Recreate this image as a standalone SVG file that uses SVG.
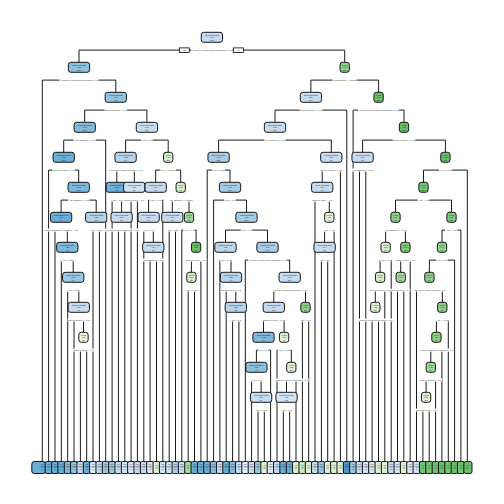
<svg xmlns="http://www.w3.org/2000/svg" width="504" height="504" viewBox="0 0 504 504">
<style>
.nb{stroke:#000;stroke-width:.9}
.tx{font-family:"Liberation Sans",Arial,sans-serif;font-size:1.9px;text-anchor:middle;fill:#111}
.lt{font-family:"Liberation Sans",Arial,sans-serif;font-size:1.05px;text-anchor:middle;fill:#111}
.sl{font-family:"Liberation Sans",Arial,sans-serif;font-size:2.4px;text-anchor:middle;fill:#333}
.s2{font-size:2.1px}
.bg{fill:#fff}
.cn{stroke:#000;stroke-width:.9;fill:none}
.yn{fill:#fff;stroke:#000;stroke-width:.8}
</style>
<rect width="504" height="504" fill="#fff"/>
<g id="connectors">
<path class="cn" d="M79 50.1H344.7M79 50.1V62.3M344.7 50.1V62.3
M42.3 80.1H115.8M42.3 80.1V461.5M115.8 80.1V92.3
M310.9 80.1H378.6M310.9 80.1V92.3M378.6 80.1V92.3
M84.7 110.1H146.9M84.7 110.1V122.3M146.9 110.1V122.3
M275 110.1H346.8M275 110.1V122.3M346.8 110.1V461.5
M353.1 110.1H404M353.1 110.1V461.5M404 110.1V122.3
M63.7 140.1H105.7M63.7 140.1V152.3M105.7 140.1V461.5
M125.6 140.1H168.2M125.6 140.1V152.3M168.2 140.1V152.3
M218.6 140.1H331.3M218.6 140.1V152.3M331.3 140.1V152.3
M362.6 140.1H445.4M362.6 140.1V152.3M445.4 140.1V152.3
M48.6 170.1H78.7M48.6 170.1V461.5M78.7 170.1V182.3
M116.8 170.1H134.3M116.8 170.1V182.3M134.3 170.1V182.3
M155.7 170.1H180.7M155.7 170.1V182.3M180.7 170.1V182.3
M207.2 170.1H230M207.2 170.1V461.5M230 170.1V182.3
M322.2 170.1H340.4M322.2 170.1V182.3M340.4 170.1V461.5
M359.5 170.1H365.8M359.5 170.1V461.5M365.8 170.1V461.5
M423.5 170.1H467.3M423.5 170.1V182.3M467.3 170.1V461.5
M61.1 200.1H96.2M61.1 200.1V212.3M96.2 200.1V212.3
M112.1 200.1H121.6M112.1 200.1V461.5M121.6 200.1V212.3
M131.1 200.1H137.4M131.1 200.1V461.5M137.4 200.1V461.5
M148.6 200.1H162.8M148.6 200.1V212.3M162.8 200.1V461.5
M172.3 200.1H189M172.3 200.1V212.3M189 200.1V212.3
M213.6 200.1H246.5M213.6 200.1V461.5M246.5 200.1V212.3
M315 200.1H329.3M315 200.1V461.5M329.3 200.1V212.3
M395.5 200.1H451.5M395.5 200.1V212.3M451.5 200.1V212.3
M55 230.1H67.3M55 230.1V461.5M67.3 230.1V242.3
M93 230.1H99.4M93 230.1V461.5M99.4 230.1V461.5
M118.4 230.1H124.8M118.4 230.1V461.5M124.8 230.1V461.5
M143.8 230.1H153.3M143.8 230.1V461.5M153.3 230.1V242.3
M169.2 230.1H175.5M169.2 230.1V461.5M175.5 230.1V461.5
M181.8 230.1H196.1M181.8 230.1V461.5M196.1 230.1V242.3
M225.5 230.1H267.5M225.5 230.1V242.3M267.5 230.1V242.3
M324.6 230.1H334.1M324.6 230.1V242.3M334.1 230.1V461.5
M385.6 230.1H405.4M385.6 230.1V242.3M405.4 230.1V242.3
M442 230.1H460.9M442 230.1V242.3M460.9 230.1V461.5
M61.3 260.1H73.2M61.3 260.1V461.5M73.2 260.1V272.3
M150.1 260.1H156.5M150.1 260.1V461.5M156.5 260.1V461.5
M191.4 260.1H200.9M191.4 260.1V272.3M200.9 260.1V461.5
M219.9 260.1H231M219.9 260.1V461.5M231 260.1V272.3
M245.3 260.1H289.7M245.3 260.1V461.5M289.7 260.1V272.3
M321.4 260.1H327.7M321.4 260.1V461.5M327.7 260.1V461.5
M380.1 260.1H391.2M380.1 260.1V272.3M391.2 260.1V461.5
M400.7 260.1H410.2M400.7 260.1V272.3M410.2 260.1V461.5
M429.4 260.1H454.6M429.4 260.1V272.3M454.6 260.1V461.5
M67.7 290.1H78.8M67.7 290.1V461.5M78.8 290.1V302.3
M188.2 290.1H194.5M188.2 290.1V461.5M194.5 290.1V461.5
M226.2 290.1H235.8M226.2 290.1V461.5M235.8 290.1V302.3
M273.8 290.1H305.5M273.8 290.1V302.3M305.5 290.1V302.3
M375.3 290.1H384.8M375.3 290.1V302.3M384.8 290.1V461.5
M397.5 290.1H403.8M397.5 290.1V461.5M403.8 290.1V461.5
M416.5 290.1H442.3M416.5 290.1V461.5M442.3 290.1V302.3
M74 320.1H83.5M74 320.1V461.5M83.5 320.1V332.3
M232.6 320.1H238.9M232.6 320.1V461.5M238.9 320.1V461.5
M263.5 320.1H284.1M263.5 320.1V332.3M284.1 320.1V332.3
M302.4 320.1H308.7M302.4 320.1V461.5M308.7 320.1V461.5
M372.1 320.1H378.5M372.1 320.1V461.5M378.5 320.1V461.5
M436.4 320.1H448.3M436.4 320.1V332.3M448.3 320.1V461.5
M80.4 350.1H86.7M80.4 350.1V461.5M86.7 350.1V461.5
M256.4 350.1H270.6M256.4 350.1V362.3M270.6 350.1V461.5
M277 350.1H291.3M277 350.1V461.5M291.3 350.1V362.3
M430.8 350.1H441.9M430.8 350.1V362.3M441.9 350.1V461.5
M251.6 380.1H261.1M251.6 380.1V461.5M261.1 380.1V392.3
M286.5 380.1H296M286.5 380.1V392.3M296 380.1V461.5
M426.1 380.1H435.6M426.1 380.1V392.3M435.6 380.1V461.5
M258 410.1H264.3M258 410.1V461.5M264.3 410.1V461.5
M283.3 410.1H289.7M283.3 410.1V461.5M289.7 410.1V461.5
M422.9 410.1H429.2M422.9 410.1V461.5M429.2 410.1V461.5"/>
</g>
<g id="n-root"><rect class="nb" x="201.25" y="32.3" width="21.3" height="10" rx="2.5" fill="#c6dbef"/><text class="tx" x="211.9" y="36.1">social generalist<tspan x="211.9" dy="2.2">0.54</tspan><tspan x="211.9" dy="2.2">100%</tspan></text><rect class="bg" x="191.4" y="48.6" width="41" height="3"/><text class="sl" x="211.9" y="50.95" textLength="40" lengthAdjust="spacingAndGlyphs">Amount.of.Time.Spent.Outdoors &lt; 0.5</text><rect class="yn" x="179.3" y="47.9" width="10" height="4.6"/><text class="sl" x="184.3" y="51.05">yes</text><rect class="yn" x="233.3" y="47.9" width="10" height="4.6"/><text class="sl" x="238.3" y="51.05">no</text></g>
<g id="n-N1"><rect class="nb" x="68.35" y="62.3" width="21.3" height="10" rx="2.5" fill="#8fc1de"/><text class="tx" x="79" y="66.1">social generalist<tspan x="79" dy="2.2">0.68</tspan><tspan x="79" dy="2.2">38%</tspan></text><rect class="bg" x="59.5" y="78.6" width="39" height="3"/><text class="sl" x="79" y="80.95" textLength="38" lengthAdjust="spacingAndGlyphs">Amount.of.Time.Spent.Reading &lt; 0.5</text></g>
<g id="n-A"><rect class="nb" x="105.15" y="92.3" width="21.3" height="10" rx="2.5" fill="#94c4df"/><text class="tx" x="115.8" y="96.1">social generalist<tspan x="115.8" dy="2.2">0.65</tspan><tspan x="115.8" dy="2.2">37%</tspan></text><rect class="bg" x="104.55" y="108.6" width="22.5" height="3"/><text class="sl" x="115.8" y="110.95" textLength="21.5" lengthAdjust="spacingAndGlyphs">Sleep.Quality &lt; 0.5</text></g>
<g id="n-B"><rect class="nb" x="74.05" y="122.3" width="21.3" height="10" rx="2.5" fill="#84bbdc"/><text class="tx" x="84.7" y="126.1">social generalist<tspan x="84.7" dy="2.2">0.68</tspan><tspan x="84.7" dy="2.2">15%</tspan></text><rect class="bg" x="73.55" y="138.6" width="22.3" height="3"/><text class="sl" x="84.7" y="140.95" textLength="21.3" lengthAdjust="spacingAndGlyphs">Age.Started &lt; 0.75</text></g>
<g id="n-D"><rect class="nb" x="53.05" y="152.3" width="21.3" height="10" rx="2.5" fill="#6baed6"/><text class="tx" x="63.7" y="156.1">social generalist<tspan x="63.7" dy="2.2">0.78</tspan><tspan x="63.7" dy="2.2">13%</tspan></text><rect class="bg" x="52.45" y="168.6" width="22.5" height="3"/><text class="sl" x="63.7" y="170.95" textLength="21.5" lengthAdjust="spacingAndGlyphs">Sleep.Quality &lt; 0.5</text></g>
<g id="n-N5a"><rect class="nb" x="68.05" y="182.3" width="21.3" height="10" rx="2.5" fill="#7db7dc"/><text class="tx" x="78.7" y="186.1">social generalist<tspan x="78.7" dy="2.2">0.72</tspan><tspan x="78.7" dy="2.2">12%</tspan></text><rect class="bg" x="68.2" y="198.6" width="21" height="3"/><text class="sl" x="78.7" y="200.95" textLength="20" lengthAdjust="spacingAndGlyphs">Age.Started &lt; 0.5</text></g>
<g id="n-N6a"><rect class="nb" x="50.45" y="212.3" width="21.3" height="10" rx="2.5" fill="#6aaed6"/><text class="tx" x="61.1" y="216.1">social generalist<tspan x="61.1" dy="2.2">0.78</tspan><tspan x="61.1" dy="2.2">9%</tspan></text><rect class="bg" x="43.6" y="228.6" width="35" height="3"/><text class="sl" x="61.1" y="230.95" textLength="34" lengthAdjust="spacingAndGlyphs">Amount.of.Social.Contact &lt; 0.5</text></g>
<g id="n-N7a"><rect class="nb" x="56.65" y="242.3" width="21.3" height="10" rx="2.5" fill="#7db7dc"/><text class="tx" x="67.3" y="246.1">social generalist<tspan x="67.3" dy="2.2">0.72</tspan><tspan x="67.3" dy="2.2">7%</tspan></text><rect class="bg" x="60.9" y="258.6" width="12.8" height="3"/><text class="sl" x="67.3" y="260.95" textLength="11.8" lengthAdjust="spacingAndGlyphs">Age &lt; 0.25</text></g>
<g id="n-N8a"><rect class="nb" x="62.55" y="272.3" width="21.3" height="10" rx="2.5" fill="#9cc8e2"/><text class="tx" x="73.2" y="276.1">social generalist<tspan x="73.2" dy="2.2">0.65</tspan><tspan x="73.2" dy="2.2">6%</tspan></text><rect class="bg" x="66.8" y="288.6" width="12.8" height="3"/><text class="sl" x="73.2" y="290.95" textLength="11.8" lengthAdjust="spacingAndGlyphs">Age &lt; 0.25</text></g>
<g id="n-N9a"><rect class="nb" x="68.15" y="302.3" width="21.3" height="10" rx="2.5" fill="#c6dbef"/><text class="tx" x="78.8" y="306.1">social generalist<tspan x="78.8" dy="2.2">0.54</tspan><tspan x="78.8" dy="2.2">4%</tspan></text><rect class="bg" x="67.55" y="318.6" width="22.5" height="3"/><text class="sl" x="78.8" y="320.95" textLength="21.5" lengthAdjust="spacingAndGlyphs">Sleep.Quality &lt; 0.5</text></g>
<g id="n-N10a"><rect class="nb" x="78.85" y="332.3" width="9.3" height="10" rx="2.5" fill="#e8f5e0"/><text class="tx" x="83.5" y="336.1">expert<tspan x="83.5" dy="2.2">0.50</tspan><tspan x="83.5" dy="2.2">3%</tspan></text><rect class="bg" x="73" y="348.6" width="21" height="3"/><text class="sl" x="83.5" y="350.95" textLength="20" lengthAdjust="spacingAndGlyphs">Screen.Time &lt; 0.5</text></g>
<g id="n-N6b"><rect class="nb" x="85.55" y="212.3" width="21.3" height="10" rx="2.5" fill="#b2d2e8"/><text class="tx" x="96.2" y="216.1">social generalist<tspan x="96.2" dy="2.2">0.58</tspan><tspan x="96.2" dy="2.2">3%</tspan></text><rect class="bg" x="89.8" y="228.6" width="12.8" height="3"/><text class="sl" x="96.2" y="230.95" textLength="11.8" lengthAdjust="spacingAndGlyphs">Age &lt; 0.25</text></g>
<g id="n-C"><rect class="nb" x="136.25" y="122.3" width="21.3" height="10" rx="2.5" fill="#c8dcf0"/><text class="tx" x="146.9" y="126.1">social generalist<tspan x="146.9" dy="2.2">0.54</tspan><tspan x="146.9" dy="2.2">22%</tspan></text><rect class="bg" x="141.15" y="138.6" width="11.5" height="3"/><text class="sl" x="146.9" y="140.95" textLength="10.5" lengthAdjust="spacingAndGlyphs">Age &lt; 0.5</text></g>
<g id="n-E"><rect class="nb" x="114.95" y="152.3" width="21.3" height="10" rx="2.5" fill="#b7d4ea"/><text class="tx" x="125.6" y="156.1">social generalist<tspan x="125.6" dy="2.2">0.58</tspan><tspan x="125.6" dy="2.2">7%</tspan></text><rect class="bg" x="108.1" y="168.6" width="35" height="3"/><text class="sl" x="125.6" y="170.95" textLength="34" lengthAdjust="spacingAndGlyphs">Amount.of.Social.Contact &lt; 0.5</text></g>
<g id="n-F"><rect class="nb" x="106.15" y="182.3" width="21.3" height="10" rx="2.5" fill="#6baed6"/><text class="tx" x="116.8" y="186.1">social generalist<tspan x="116.8" dy="2.2">0.78</tspan><tspan x="116.8" dy="2.2">4%</tspan></text><rect class="bg" x="111.05" y="198.6" width="11.5" height="3"/><text class="sl" x="116.8" y="200.95" textLength="10.5" lengthAdjust="spacingAndGlyphs">Age &lt; 0.5</text></g>
<g id="n-N6c"><rect class="nb" x="110.95" y="212.3" width="21.3" height="10" rx="2.5" fill="#c6dbef"/><text class="tx" x="121.6" y="216.1">social generalist<tspan x="121.6" dy="2.2">0.54</tspan><tspan x="121.6" dy="2.2">3%</tspan></text><rect class="bg" x="104.1" y="228.6" width="35" height="3"/><text class="sl" x="121.6" y="230.95" textLength="34" lengthAdjust="spacingAndGlyphs">Amount.of.Social.Contact &lt; 0.5</text></g>
<g id="n-G"><rect class="nb" x="123.65" y="182.3" width="21.3" height="10" rx="2.5" fill="#d0e2f2"/><text class="tx" x="134.3" y="186.1">social generalist<tspan x="134.3" dy="2.2">0.50</tspan><tspan x="134.3" dy="2.2">3%</tspan></text><rect class="bg" x="123.8" y="198.6" width="21" height="3"/><text class="sl" x="134.3" y="200.95" textLength="20" lengthAdjust="spacingAndGlyphs">Screen.Time &lt; 0.5</text></g>
<g id="n-K"><rect class="nb" x="163.55" y="152.3" width="9.3" height="10" rx="2.5" fill="#d9efce"/><text class="tx" x="168.2" y="156.1">expert<tspan x="168.2" dy="2.2">0.55</tspan><tspan x="168.2" dy="2.2">15%</tspan></text><rect class="bg" x="160.45" y="168.6" width="15.5" height="3"/><text class="sl" x="168.2" y="170.95" textLength="14.5" lengthAdjust="spacingAndGlyphs">Age &lt; 0.0005</text></g>
<g id="n-H"><rect class="nb" x="145.05" y="182.3" width="21.3" height="10" rx="2.5" fill="#c6dbef"/><text class="tx" x="155.7" y="186.1">social generalist<tspan x="155.7" dy="2.2">0.54</tspan><tspan x="155.7" dy="2.2">6%</tspan></text><rect class="bg" x="149.3" y="198.6" width="12.8" height="3"/><text class="sl" x="155.7" y="200.95" textLength="11.8" lengthAdjust="spacingAndGlyphs">Age &lt; 0.17</text></g>
<g id="n-N6d"><rect class="nb" x="137.95" y="212.3" width="21.3" height="10" rx="2.5" fill="#c6dbef"/><text class="tx" x="148.6" y="216.1">social generalist<tspan x="148.6" dy="2.2">0.54</tspan><tspan x="148.6" dy="2.2">4%</tspan></text><rect class="bg" x="142.85" y="228.6" width="11.5" height="3"/><text class="sl" x="148.6" y="230.95" textLength="10.5" lengthAdjust="spacingAndGlyphs">Age &lt; 0.5</text></g>
<g id="n-N7b"><rect class="nb" x="142.65" y="242.3" width="21.3" height="10" rx="2.5" fill="#c6dbef"/><text class="tx" x="153.3" y="246.1">social generalist<tspan x="153.3" dy="2.2">0.54</tspan><tspan x="153.3" dy="2.2">3%</tspan></text><rect class="bg" x="142.15" y="258.6" width="22.3" height="3"/><text class="sl" x="153.3" y="260.95" textLength="21.3" lengthAdjust="spacingAndGlyphs">Age.Started &lt; 0.75</text></g>
<g id="n-I"><rect class="nb" x="176.05" y="182.3" width="9.3" height="10" rx="2.5" fill="#d4ecc8"/><text class="tx" x="180.7" y="186.1">expert<tspan x="180.7" dy="2.2">0.55</tspan><tspan x="180.7" dy="2.2">9%</tspan></text><rect class="bg" x="168.2" y="198.6" width="25" height="3"/><text class="sl" x="180.7" y="200.95" textLength="24" lengthAdjust="spacingAndGlyphs">Age.Started &lt; 0.0005</text></g>
<g id="n-N6e"><rect class="nb" x="161.65" y="212.3" width="21.3" height="10" rx="2.5" fill="#c6dbef"/><text class="tx" x="172.3" y="216.1">social generalist<tspan x="172.3" dy="2.2">0.54</tspan><tspan x="172.3" dy="2.2">3%</tspan></text><rect class="bg" x="165.9" y="228.6" width="12.8" height="3"/><text class="sl" x="172.3" y="230.95" textLength="11.8" lengthAdjust="spacingAndGlyphs">Age &lt; 0.25</text></g>
<g id="n-N6f"><rect class="nb" x="184.35" y="212.3" width="9.3" height="10" rx="2.5" fill="#9ed79a"/><text class="tx" x="189" y="216.1">expert<tspan x="189" dy="2.2">0.65</tspan><tspan x="189" dy="2.2">6%</tspan></text><rect class="bg" x="183.25" y="228.6" width="11.5" height="3"/><text class="sl" x="189" y="230.95" textLength="10.5" lengthAdjust="spacingAndGlyphs">Age &lt; 0.5</text></g>
<g id="n-N7c"><rect class="nb" x="191.45" y="242.3" width="9.3" height="10" rx="2.5" fill="#6abf69"/><text class="tx" x="196.1" y="246.1">expert<tspan x="196.1" dy="2.2">0.82</tspan><tspan x="196.1" dy="2.2">4%</tspan></text><rect class="bg" x="185.6" y="258.6" width="21" height="3"/><text class="sl" x="196.1" y="260.95" textLength="20" lengthAdjust="spacingAndGlyphs">Screen.Time &lt; 0.5</text></g>
<g id="n-N8b"><rect class="nb" x="186.75" y="272.3" width="9.3" height="10" rx="2.5" fill="#d4ecc8"/><text class="tx" x="191.4" y="276.1">expert<tspan x="191.4" dy="2.2">0.55</tspan><tspan x="191.4" dy="2.2">3%</tspan></text><rect class="bg" x="185" y="288.6" width="12.8" height="3"/><text class="sl" x="191.4" y="290.95" textLength="11.8" lengthAdjust="spacingAndGlyphs">Age &lt; 0.75</text></g>
<g id="n-R"><rect class="nb" x="340.05" y="62.3" width="9.3" height="10" rx="2.5" fill="#8ccf88"/><text class="tx" x="344.7" y="66.1">expert<tspan x="344.7" dy="2.2">0.71</tspan><tspan x="344.7" dy="2.2">62%</tspan></text><rect class="bg" x="332.7" y="78.6" width="24" height="3"/><text class="sl" x="344.7" y="80.95" textLength="23" lengthAdjust="spacingAndGlyphs">Hours.Slept &lt; 0.0005</text></g>
<g id="n-P"><rect class="nb" x="300.25" y="92.3" width="21.3" height="10" rx="2.5" fill="#c6dbef"/><text class="tx" x="310.9" y="96.1">social generalist<tspan x="310.9" dy="2.2">0.54</tspan><tspan x="310.9" dy="2.2">34%</tspan></text><rect class="bg" x="299.65" y="108.6" width="22.5" height="3"/><text class="sl" x="310.9" y="110.95" textLength="21.5" lengthAdjust="spacingAndGlyphs">Sleep.Quality &lt; 0.5</text></g>
<g id="n-Q"><rect class="nb" x="264.35" y="122.3" width="21.3" height="10" rx="2.5" fill="#c6dbef"/><text class="tx" x="275" y="126.1">social generalist<tspan x="275" dy="2.2">0.54</tspan><tspan x="275" dy="2.2">32%</tspan></text><rect class="bg" x="264.5" y="138.6" width="21" height="3"/><text class="sl" x="275" y="140.95" textLength="20" lengthAdjust="spacingAndGlyphs">Age.Started &lt; 0.5</text></g>
<g id="n-L"><rect class="nb" x="207.95" y="152.3" width="21.3" height="10" rx="2.5" fill="#a8cce5"/><text class="tx" x="218.6" y="156.1">social generalist<tspan x="218.6" dy="2.2">0.61</tspan><tspan x="218.6" dy="2.2">25%</tspan></text><rect class="bg" x="212.2" y="168.6" width="12.8" height="3"/><text class="sl" x="218.6" y="170.95" textLength="11.8" lengthAdjust="spacingAndGlyphs">Age &lt; 0.25</text></g>
<g id="n-J"><rect class="nb" x="219.35" y="182.3" width="21.3" height="10" rx="2.5" fill="#a6cbe4"/><text class="tx" x="230" y="186.1">social generalist<tspan x="230" dy="2.2">0.61</tspan><tspan x="230" dy="2.2">24%</tspan></text><rect class="bg" x="224.25" y="198.6" width="11.5" height="3"/><text class="sl" x="230" y="200.95" textLength="10.5" lengthAdjust="spacingAndGlyphs">Age &lt; 0.5</text></g>
<g id="n-N6g"><rect class="nb" x="235.85" y="212.3" width="21.3" height="10" rx="2.5" fill="#a6cbe4"/><text class="tx" x="246.5" y="216.1">social generalist<tspan x="246.5" dy="2.2">0.61</tspan><tspan x="246.5" dy="2.2">22%</tspan></text><rect class="bg" x="240.75" y="228.6" width="11.5" height="3"/><text class="sl" x="246.5" y="230.95" textLength="10.5" lengthAdjust="spacingAndGlyphs">Age &lt; 0.5</text></g>
<g id="n-N7d"><rect class="nb" x="214.85" y="242.3" width="21.3" height="10" rx="2.5" fill="#bcd7ec"/><text class="tx" x="225.5" y="246.1">social generalist<tspan x="225.5" dy="2.2">0.58</tspan><tspan x="225.5" dy="2.2">6%</tspan></text><rect class="bg" x="219.75" y="258.6" width="11.5" height="3"/><text class="sl" x="225.5" y="260.95" textLength="10.5" lengthAdjust="spacingAndGlyphs">Age &lt; 0.5</text></g>
<g id="n-N8c"><rect class="nb" x="220.35" y="272.3" width="21.3" height="10" rx="2.5" fill="#b5d3ea"/><text class="tx" x="231" y="276.1">social generalist<tspan x="231" dy="2.2">0.58</tspan><tspan x="231" dy="2.2">4%</tspan></text><rect class="bg" x="220.5" y="288.6" width="21" height="3"/><text class="sl" x="231" y="290.95" textLength="20" lengthAdjust="spacingAndGlyphs">Screen.Time &lt; 0.5</text></g>
<g id="n-N9b"><rect class="nb" x="225.15" y="302.3" width="21.3" height="10" rx="2.5" fill="#b5d3ea"/><text class="tx" x="235.8" y="306.1">social generalist<tspan x="235.8" dy="2.2">0.58</tspan><tspan x="235.8" dy="2.2">3%</tspan></text><rect class="bg" x="230.05" y="318.6" width="11.5" height="3"/><text class="sl" x="235.8" y="320.95" textLength="10.5" lengthAdjust="spacingAndGlyphs">Age &lt; 0.5</text></g>
<g id="n-L7e"><rect class="nb" x="256.85" y="242.3" width="21.3" height="10" rx="2.5" fill="#a6cbe4"/><text class="tx" x="267.5" y="246.1">social generalist<tspan x="267.5" dy="2.2">0.61</tspan><tspan x="267.5" dy="2.2">16%</tspan></text><rect class="bg" x="248" y="258.6" width="39" height="3"/><text class="sl" x="267.5" y="260.95" textLength="38" lengthAdjust="spacingAndGlyphs">Amount.of.Time.Spent.Reading &lt; 0.5</text></g>
<g id="n-L8d"><rect class="nb" x="279.05" y="272.3" width="21.3" height="10" rx="2.5" fill="#c6dbef"/><text class="tx" x="289.7" y="276.1">social generalist<tspan x="289.7" dy="2.2">0.54</tspan><tspan x="289.7" dy="2.2">15%</tspan></text><rect class="bg" x="272.2" y="288.6" width="35" height="3"/><text class="sl" x="289.7" y="290.95" textLength="34" lengthAdjust="spacingAndGlyphs">Amount.of.Social.Contact &lt; 0.5</text></g>
<g id="n-L9b"><rect class="nb" x="263.15" y="302.3" width="21.3" height="10" rx="2.5" fill="#c6dbef"/><text class="tx" x="273.8" y="306.1">social generalist<tspan x="273.8" dy="2.2">0.54</tspan><tspan x="273.8" dy="2.2">10%</tspan></text><rect class="bg" x="263.3" y="318.6" width="21" height="3"/><text class="sl" x="273.8" y="320.95" textLength="20" lengthAdjust="spacingAndGlyphs">Screen.Time &lt; 0.5</text></g>
<g id="n-L10b"><rect class="nb" x="252.85" y="332.3" width="21.3" height="10" rx="2.5" fill="#7fb8dc"/><text class="tx" x="263.5" y="336.1">social generalist<tspan x="263.5" dy="2.2">0.72</tspan><tspan x="263.5" dy="2.2">6%</tspan></text><rect class="bg" x="257.75" y="348.6" width="11.5" height="3"/><text class="sl" x="263.5" y="350.95" textLength="10.5" lengthAdjust="spacingAndGlyphs">Age &lt; 0.5</text></g>
<g id="n-L11b"><rect class="nb" x="245.75" y="362.3" width="21.3" height="10" rx="2.5" fill="#8cc0de"/><text class="tx" x="256.4" y="366.1">social generalist<tspan x="256.4" dy="2.2">0.68</tspan><tspan x="256.4" dy="2.2">4%</tspan></text><rect class="bg" x="250.65" y="378.6" width="11.5" height="3"/><text class="sl" x="256.4" y="380.95" textLength="10.5" lengthAdjust="spacingAndGlyphs">Age &lt; 0.5</text></g>
<g id="n-L12b1"><rect class="nb" x="250.45" y="392.3" width="21.3" height="10" rx="2.5" fill="#c6dbef"/><text class="tx" x="261.1" y="396.1">social generalist<tspan x="261.1" dy="2.2">0.54</tspan><tspan x="261.1" dy="2.2">3%</tspan></text><rect class="bg" x="254.7" y="408.6" width="12.8" height="3"/><text class="sl" x="261.1" y="410.95" textLength="11.8" lengthAdjust="spacingAndGlyphs">Age &lt; 0.75</text></g>
<g id="n-L10g"><rect class="nb" x="279.45" y="332.3" width="9.3" height="10" rx="2.5" fill="#e2f2da"/><text class="tx" x="284.1" y="336.1">expert<tspan x="284.1" dy="2.2">0.52</tspan><tspan x="284.1" dy="2.2">4%</tspan></text><rect class="bg" x="277.7" y="348.6" width="12.8" height="3"/><text class="sl" x="284.1" y="350.95" textLength="11.8" lengthAdjust="spacingAndGlyphs">Age &lt; 0.25</text></g>
<g id="n-L11g"><rect class="nb" x="286.65" y="362.3" width="9.3" height="10" rx="2.5" fill="#e2f2da"/><text class="tx" x="291.3" y="366.1">expert<tspan x="291.3" dy="2.2">0.52</tspan><tspan x="291.3" dy="2.2">3%</tspan></text><rect class="bg" x="273.8" y="378.6" width="35" height="3"/><text class="sl" x="291.3" y="380.95" textLength="34" lengthAdjust="spacingAndGlyphs">Amount.of.Social.Contact &lt; 0.5</text></g>
<g id="n-L12b2"><rect class="nb" x="275.85" y="392.3" width="21.3" height="10" rx="2.5" fill="#d2e3f3"/><text class="tx" x="286.5" y="396.1">social generalist<tspan x="286.5" dy="2.2">0.50</tspan><tspan x="286.5" dy="2.2">3%</tspan></text><rect class="bg" x="280.75" y="408.6" width="11.5" height="3"/><text class="sl" x="286.5" y="410.95" textLength="10.5" lengthAdjust="spacingAndGlyphs">Age &lt; 0.5</text></g>
<g id="n-L9g"><rect class="nb" x="300.85" y="302.3" width="9.3" height="10" rx="2.5" fill="#8ccf88"/><text class="tx" x="305.5" y="306.1">expert<tspan x="305.5" dy="2.2">0.71</tspan><tspan x="305.5" dy="2.2">3%</tspan></text><rect class="bg" x="299.75" y="318.6" width="11.5" height="3"/><text class="sl" x="305.5" y="320.95" textLength="10.5" lengthAdjust="spacingAndGlyphs">Age &lt; 0.5</text></g>
<g id="n-M"><rect class="nb" x="320.65" y="152.3" width="21.3" height="10" rx="2.5" fill="#c6dbef"/><text class="tx" x="331.3" y="156.1">social generalist<tspan x="331.3" dy="2.2">0.54</tspan><tspan x="331.3" dy="2.2">7%</tspan></text><rect class="bg" x="320.05" y="168.6" width="22.5" height="3"/><text class="sl" x="331.3" y="170.95" textLength="21.5" lengthAdjust="spacingAndGlyphs">Sleep.Quality &lt; 0.5</text></g>
<g id="n-L5m"><rect class="nb" x="311.55" y="182.3" width="21.3" height="10" rx="2.5" fill="#c6dbef"/><text class="tx" x="322.2" y="186.1">social generalist<tspan x="322.2" dy="2.2">0.54</tspan><tspan x="322.2" dy="2.2">6%</tspan></text><rect class="bg" x="311.7" y="198.6" width="21" height="3"/><text class="sl" x="322.2" y="200.95" textLength="20" lengthAdjust="spacingAndGlyphs">Screen.Time &lt; 0.5</text></g>
<g id="n-L6g"><rect class="nb" x="324.65" y="212.3" width="9.3" height="10" rx="2.5" fill="#e2f2da"/><text class="tx" x="329.3" y="216.1">expert<tspan x="329.3" dy="2.2">0.52</tspan><tspan x="329.3" dy="2.2">4%</tspan></text><rect class="bg" x="323.55" y="228.6" width="11.5" height="3"/><text class="sl" x="329.3" y="230.95" textLength="10.5" lengthAdjust="spacingAndGlyphs">Age &lt; 0.5</text></g>
<g id="n-L7f"><rect class="nb" x="313.95" y="242.3" width="21.3" height="10" rx="2.5" fill="#c6dbef"/><text class="tx" x="324.6" y="246.1">social generalist<tspan x="324.6" dy="2.2">0.54</tspan><tspan x="324.6" dy="2.2">3%</tspan></text><rect class="bg" x="318.85" y="258.6" width="11.5" height="3"/><text class="sl" x="324.6" y="260.95" textLength="10.5" lengthAdjust="spacingAndGlyphs">Age &lt; 0.5</text></g>
<g id="n-S"><rect class="nb" x="373.95" y="92.3" width="9.3" height="10" rx="2.5" fill="#6dbf6d"/><text class="tx" x="378.6" y="96.1">expert<tspan x="378.6" dy="2.2">0.82</tspan><tspan x="378.6" dy="2.2">28%</tspan></text><rect class="bg" x="358.1" y="108.6" width="41" height="3"/><text class="sl" x="378.6" y="110.95" textLength="40" lengthAdjust="spacingAndGlyphs">Amount.of.Time.Spent.Outdoors &lt; 0.5</text></g>
<g id="n-T"><rect class="nb" x="399.35" y="122.3" width="9.3" height="10" rx="2.5" fill="#6abf69"/><text class="tx" x="404" y="126.1">expert<tspan x="404" dy="2.2">0.82</tspan><tspan x="404" dy="2.2">26%</tspan></text><rect class="bg" x="392.75" y="138.6" width="22.5" height="3"/><text class="sl" x="404" y="140.95" textLength="21.5" lengthAdjust="spacingAndGlyphs">Sleep.Quality &lt; 0.5</text></g>
<g id="n-U"><rect class="nb" x="351.95" y="152.3" width="21.3" height="10" rx="2.5" fill="#c6dbef"/><text class="tx" x="362.6" y="156.1">social generalist<tspan x="362.6" dy="2.2">0.54</tspan><tspan x="362.6" dy="2.2">3%</tspan></text><rect class="bg" x="351.45" y="168.6" width="22.3" height="3"/><text class="sl" x="362.6" y="170.95" textLength="21.3" lengthAdjust="spacingAndGlyphs">Age.Started &lt; 0.75</text></g>
<g id="n-V"><rect class="nb" x="440.75" y="152.3" width="9.3" height="10" rx="2.5" fill="#6abf69"/><text class="tx" x="445.4" y="156.1">expert<tspan x="445.4" dy="2.2">0.82</tspan><tspan x="445.4" dy="2.2">24%</tspan></text><rect class="bg" x="439" y="168.6" width="12.8" height="3"/><text class="sl" x="445.4" y="170.95" textLength="11.8" lengthAdjust="spacingAndGlyphs">Age &lt; 0.75</text></g>
<g id="n-W"><rect class="nb" x="418.85" y="182.3" width="9.3" height="10" rx="2.5" fill="#74c476"/><text class="tx" x="423.5" y="186.1">expert<tspan x="423.5" dy="2.2">0.79</tspan><tspan x="423.5" dy="2.2">22%</tspan></text><rect class="bg" x="417.75" y="198.6" width="11.5" height="3"/><text class="sl" x="423.5" y="200.95" textLength="10.5" lengthAdjust="spacingAndGlyphs">Age &lt; 0.5</text></g>
<g id="n-X"><rect class="nb" x="390.85" y="212.3" width="9.3" height="10" rx="2.5" fill="#8dcf8a"/><text class="tx" x="395.5" y="216.1">expert<tspan x="395.5" dy="2.2">0.71</tspan><tspan x="395.5" dy="2.2">10%</tspan></text><rect class="bg" x="384.35" y="228.6" width="22.3" height="3"/><text class="sl" x="395.5" y="230.95" textLength="21.3" lengthAdjust="spacingAndGlyphs">Age.Started &lt; 0.75</text></g>
<g id="n-L7a"><rect class="nb" x="380.95" y="242.3" width="9.3" height="10" rx="2.5" fill="#d4ecc8"/><text class="tx" x="385.6" y="246.1">expert<tspan x="385.6" dy="2.2">0.55</tspan><tspan x="385.6" dy="2.2">6%</tspan></text><rect class="bg" x="379.85" y="258.6" width="11.5" height="3"/><text class="sl" x="385.6" y="260.95" textLength="10.5" lengthAdjust="spacingAndGlyphs">Age &lt; 0.5</text></g>
<g id="n-L8a"><rect class="nb" x="375.45" y="272.3" width="9.3" height="10" rx="2.5" fill="#d4ecc8"/><text class="tx" x="380.1" y="276.1">expert<tspan x="380.1" dy="2.2">0.55</tspan><tspan x="380.1" dy="2.2">4%</tspan></text><rect class="bg" x="369.6" y="288.6" width="21" height="3"/><text class="sl s2" x="380.1" y="290.85" textLength="20" lengthAdjust="spacingAndGlyphs">Sleep.Quality &lt; 0.5</text></g>
<g id="n-L9a"><rect class="nb" x="370.65" y="302.3" width="9.3" height="10" rx="2.5" fill="#dcefd3"/><text class="tx" x="375.3" y="306.1">expert<tspan x="375.3" dy="2.2">0.52</tspan><tspan x="375.3" dy="2.2">3%</tspan></text><rect class="bg" x="357.8" y="318.6" width="35" height="3"/><text class="sl" x="375.3" y="320.95" textLength="34" lengthAdjust="spacingAndGlyphs">Amount.of.Social.Contact &lt; 0.5</text></g>
<g id="n-L7b"><rect class="nb" x="400.75" y="242.3" width="9.3" height="10" rx="2.5" fill="#7fc97f"/><text class="tx" x="405.4" y="246.1">expert<tspan x="405.4" dy="2.2">0.75</tspan><tspan x="405.4" dy="2.2">4%</tspan></text><rect class="bg" x="394.9" y="258.6" width="21" height="3"/><text class="sl" x="405.4" y="260.95" textLength="20" lengthAdjust="spacingAndGlyphs">Screen.Time &lt; 0.5</text></g>
<g id="n-L8b"><rect class="nb" x="396.05" y="272.3" width="9.3" height="10" rx="2.5" fill="#a3d99f"/><text class="tx" x="400.7" y="276.1">expert<tspan x="400.7" dy="2.2">0.65</tspan><tspan x="400.7" dy="2.2">3%</tspan></text><rect class="bg" x="391.2" y="288.6" width="19" height="3"/><text class="sl s2" x="400.7" y="290.85" textLength="18" lengthAdjust="spacingAndGlyphs">Screen.Time &lt; 0.5</text></g>
<g id="n-Y"><rect class="nb" x="446.85" y="212.3" width="9.3" height="10" rx="2.5" fill="#7fc97f"/><text class="tx" x="451.5" y="216.1">expert<tspan x="451.5" dy="2.2">0.75</tspan><tspan x="451.5" dy="2.2">12%</tspan></text><rect class="bg" x="445.1" y="228.6" width="12.8" height="3"/><text class="sl" x="451.5" y="230.95" textLength="11.8" lengthAdjust="spacingAndGlyphs">Age &lt; 0.25</text></g>
<g id="n-L7c"><rect class="nb" x="437.35" y="242.3" width="9.3" height="10" rx="2.5" fill="#91d18d"/><text class="tx" x="442" y="246.1">expert<tspan x="442" dy="2.2">0.69</tspan><tspan x="442" dy="2.2">9%</tspan></text><rect class="bg" x="436.25" y="258.6" width="11.5" height="3"/><text class="sl" x="442" y="260.95" textLength="10.5" lengthAdjust="spacingAndGlyphs">Age &lt; 0.5</text></g>
<g id="n-L8z"><rect class="nb" x="424.75" y="272.3" width="9.3" height="10" rx="2.5" fill="#8ccf88"/><text class="tx" x="429.4" y="276.1">expert<tspan x="429.4" dy="2.2">0.71</tspan><tspan x="429.4" dy="2.2">7%</tspan></text><rect class="bg" x="412.9" y="288.6" width="33" height="3"/><text class="sl s2" x="429.4" y="290.85" textLength="32" lengthAdjust="spacingAndGlyphs">Amount.of.Social.Contact &lt; 0.5</text></g>
<g id="n-L9z"><rect class="nb" x="437.65" y="302.3" width="9.3" height="10" rx="2.5" fill="#8ccf88"/><text class="tx" x="442.3" y="306.1">expert<tspan x="442.3" dy="2.2">0.71</tspan><tspan x="442.3" dy="2.2">6%</tspan></text><rect class="bg" x="435.9" y="318.6" width="12.8" height="3"/><text class="sl" x="442.3" y="320.95" textLength="11.8" lengthAdjust="spacingAndGlyphs">Age &lt; 0.75</text></g>
<g id="n-L10z"><rect class="nb" x="431.75" y="332.3" width="9.3" height="10" rx="2.5" fill="#8ccf88"/><text class="tx" x="436.4" y="336.1">expert<tspan x="436.4" dy="2.2">0.71</tspan><tspan x="436.4" dy="2.2">4%</tspan></text><rect class="bg" x="418.9" y="348.6" width="35" height="3"/><text class="sl" x="436.4" y="350.95" textLength="34" lengthAdjust="spacingAndGlyphs">Amount.of.Social.Contact &lt; 0.5</text></g>
<g id="n-L11z"><rect class="nb" x="426.15" y="362.3" width="9.3" height="10" rx="2.5" fill="#9ed79a"/><text class="tx" x="430.8" y="366.1">expert<tspan x="430.8" dy="2.2">0.65</tspan><tspan x="430.8" dy="2.2">3%</tspan></text><rect class="bg" x="419.55" y="378.6" width="22.5" height="3"/><text class="sl" x="430.8" y="380.95" textLength="21.5" lengthAdjust="spacingAndGlyphs">Sleep.Quality &lt; 0.5</text></g>
<g id="n-L12z"><rect class="nb" x="421.45" y="392.3" width="9.3" height="10" rx="2.5" fill="#dcefd3"/><text class="tx" x="426.1" y="396.1">expert<tspan x="426.1" dy="2.2">0.52</tspan><tspan x="426.1" dy="2.2">3%</tspan></text><rect class="bg" x="415.6" y="408.6" width="21" height="3"/><text class="sl" x="426.1" y="410.95" textLength="20" lengthAdjust="spacingAndGlyphs">Screen.Time &lt; 0.5</text></g>
<g id="leaf0"><rect class="nb" x="31.8" y="461.5" width="13.95" height="12" rx="2.5" fill="#6aaed6"/><text class="lt" x="42.3" y="465.4">social<tspan x="42.3" dy="1.45">generalist</tspan><tspan x="42.3" dy="1.45">0.78</tspan><tspan x="42.3" dy="1.45">2%</tspan></text></g>
<g id="leaf1"><rect class="nb" x="45.15" y="461.5" width="6.9" height="12" rx="1.5" fill="#6aaed6"/><text class="lt" x="48.6" y="465.4">social<tspan x="48.6" dy="1.45">generalist</tspan><tspan x="48.6" dy="1.45">0.78</tspan><tspan x="48.6" dy="1.45">1%</tspan></text></g>
<g id="leaf2"><rect class="nb" x="51.55" y="461.5" width="6.9" height="12" rx="1.5" fill="#6aaed6"/><text class="lt" x="55" y="465.4">social<tspan x="55" dy="1.45">generalist</tspan><tspan x="55" dy="1.45">0.78</tspan><tspan x="55" dy="1.45">2%</tspan></text></g>
<g id="leaf3"><rect class="nb" x="57.85" y="461.5" width="6.9" height="12" rx="1.5" fill="#6aaed6"/><text class="lt" x="61.3" y="465.4">social<tspan x="61.3" dy="1.45">generalist</tspan><tspan x="61.3" dy="1.45">0.78</tspan><tspan x="61.3" dy="1.45">1%</tspan></text></g>
<g id="leaf4"><rect class="nb" x="64.25" y="461.5" width="6.9" height="12" rx="1.5" fill="#7fb9dc"/><text class="lt" x="67.7" y="465.4">social<tspan x="67.7" dy="1.45">generalist</tspan><tspan x="67.7" dy="1.45">0.72</tspan><tspan x="67.7" dy="1.45">1%</tspan></text></g>
<g id="leaf5"><rect class="nb" x="70.55" y="461.5" width="6.9" height="12" rx="1.5" fill="#8fc2df"/><text class="lt" x="74" y="465.4">social<tspan x="74" dy="1.45">generalist</tspan><tspan x="74" dy="1.45">0.68</tspan><tspan x="74" dy="1.45">1%</tspan></text></g>
<g id="leaf6"><rect class="nb" x="76.95" y="461.5" width="6.9" height="12" rx="1.5" fill="#c6dbef"/><text class="lt" x="80.4" y="465.4">social<tspan x="80.4" dy="1.45">generalist</tspan><tspan x="80.4" dy="1.45">0.54</tspan><tspan x="80.4" dy="1.45">1%</tspan></text></g>
<g id="leaf7"><rect class="nb" x="83.25" y="461.5" width="6.9" height="12" rx="1.5" fill="#6aaed6"/><text class="lt" x="86.7" y="465.4">social<tspan x="86.7" dy="1.45">generalist</tspan><tspan x="86.7" dy="1.45">0.78</tspan><tspan x="86.7" dy="1.45">2%</tspan></text></g>
<g id="leaf8"><rect class="nb" x="89.55" y="461.5" width="6.9" height="12" rx="1.5" fill="#dde9f5"/><text class="lt" x="93" y="465.4">social<tspan x="93" dy="1.45">generalist</tspan><tspan x="93" dy="1.45">0.50</tspan><tspan x="93" dy="1.45">1%</tspan></text></g>
<g id="leaf9"><rect class="nb" x="95.95" y="461.5" width="6.9" height="12" rx="1.5" fill="#c6dbef"/><text class="lt" x="99.4" y="465.4">social<tspan x="99.4" dy="1.45">generalist</tspan><tspan x="99.4" dy="1.45">0.54</tspan><tspan x="99.4" dy="1.45">1%</tspan></text></g>
<g id="leaf10"><rect class="nb" x="102.25" y="461.5" width="6.9" height="12" rx="1.5" fill="#9ac8e0"/><text class="lt" x="105.7" y="465.4">social<tspan x="105.7" dy="1.45">generalist</tspan><tspan x="105.7" dy="1.45">0.65</tspan><tspan x="105.7" dy="1.45">2%</tspan></text></g>
<g id="leaf11"><rect class="nb" x="108.65" y="461.5" width="6.9" height="12" rx="1.5" fill="#9ac8e0"/><text class="lt" x="112.1" y="465.4">social<tspan x="112.1" dy="1.45">generalist</tspan><tspan x="112.1" dy="1.45">0.65</tspan><tspan x="112.1" dy="1.45">1%</tspan></text></g>
<g id="leaf12"><rect class="nb" x="114.95" y="461.5" width="6.9" height="12" rx="1.5" fill="#c6dbef"/><text class="lt" x="118.4" y="465.4">social<tspan x="118.4" dy="1.45">generalist</tspan><tspan x="118.4" dy="1.45">0.54</tspan><tspan x="118.4" dy="1.45">1%</tspan></text></g>
<g id="leaf13"><rect class="nb" x="121.35" y="461.5" width="6.9" height="12" rx="1.5" fill="#d2e3f3"/><text class="lt" x="124.8" y="465.4">social<tspan x="124.8" dy="1.45">generalist</tspan><tspan x="124.8" dy="1.45">0.50</tspan><tspan x="124.8" dy="1.45">1%</tspan></text></g>
<g id="leaf14"><rect class="nb" x="127.65" y="461.5" width="6.9" height="12" rx="1.5" fill="#dbe5f3"/><text class="lt" x="131.1" y="465.4">social<tspan x="131.1" dy="1.45">generalist</tspan><tspan x="131.1" dy="1.45">0.50</tspan><tspan x="131.1" dy="1.45">1%</tspan></text></g>
<g id="leaf15"><rect class="nb" x="133.95" y="461.5" width="6.9" height="12" rx="1.5" fill="#c6dbef"/><text class="lt" x="137.4" y="465.4">social<tspan x="137.4" dy="1.45">generalist</tspan><tspan x="137.4" dy="1.45">0.54</tspan><tspan x="137.4" dy="1.45">2%</tspan></text></g>
<g id="leaf16"><rect class="nb" x="140.35" y="461.5" width="6.9" height="12" rx="1.5" fill="#c6dbef"/><text class="lt" x="143.8" y="465.4">social<tspan x="143.8" dy="1.45">generalist</tspan><tspan x="143.8" dy="1.45">0.54</tspan><tspan x="143.8" dy="1.45">1%</tspan></text></g>
<g id="leaf17"><rect class="nb" x="146.65" y="461.5" width="6.9" height="12" rx="1.5" fill="#e1e4f3"/><text class="lt" x="150.1" y="465.4">social<tspan x="150.1" dy="1.45">generalist</tspan><tspan x="150.1" dy="1.45">0.50</tspan><tspan x="150.1" dy="1.45">1%</tspan></text></g>
<g id="leaf18"><rect class="nb" x="153.05" y="461.5" width="6.9" height="12" rx="1.5" fill="#dcefd3"/><text class="lt" x="156.5" y="466.1">expert<tspan x="156.5" dy="1.45">0.52</tspan><tspan x="156.5" dy="1.45">1%</tspan></text></g>
<g id="leaf19"><rect class="nb" x="159.35" y="461.5" width="6.9" height="12" rx="1.5" fill="#d2e3f3"/><text class="lt" x="162.8" y="465.4">social<tspan x="162.8" dy="1.45">generalist</tspan><tspan x="162.8" dy="1.45">0.50</tspan><tspan x="162.8" dy="1.45">2%</tspan></text></g>
<g id="leaf20"><rect class="nb" x="165.75" y="461.5" width="6.9" height="12" rx="1.5" fill="#d2e3f3"/><text class="lt" x="169.2" y="465.4">social<tspan x="169.2" dy="1.45">generalist</tspan><tspan x="169.2" dy="1.45">0.50</tspan><tspan x="169.2" dy="1.45">1%</tspan></text></g>
<g id="leaf21"><rect class="nb" x="172.05" y="461.5" width="6.9" height="12" rx="1.5" fill="#a9cce5"/><text class="lt" x="175.5" y="465.4">social<tspan x="175.5" dy="1.45">generalist</tspan><tspan x="175.5" dy="1.45">0.61</tspan><tspan x="175.5" dy="1.45">1%</tspan></text></g>
<g id="leaf22"><rect class="nb" x="178.35" y="461.5" width="6.9" height="12" rx="1.5" fill="#c6dbef"/><text class="lt" x="181.8" y="465.4">social<tspan x="181.8" dy="1.45">generalist</tspan><tspan x="181.8" dy="1.45">0.54</tspan><tspan x="181.8" dy="1.45">2%</tspan></text></g>
<g id="leaf23"><rect class="nb" x="184.75" y="461.5" width="6.9" height="12" rx="1.5" fill="#a1d99b"/><text class="lt" x="188.2" y="466.1">expert<tspan x="188.2" dy="1.45">0.65</tspan><tspan x="188.2" dy="1.45">1%</tspan></text></g>
<g id="leaf24"><rect class="nb" x="191.05" y="461.5" width="6.9" height="12" rx="1.5" fill="#6aaed6"/><text class="lt" x="194.5" y="465.4">social<tspan x="194.5" dy="1.45">generalist</tspan><tspan x="194.5" dy="1.45">0.78</tspan><tspan x="194.5" dy="1.45">1%</tspan></text></g>
<g id="leaf25"><rect class="nb" x="197.45" y="461.5" width="6.9" height="12" rx="1.5" fill="#6aaed6"/><text class="lt" x="200.9" y="465.4">social<tspan x="200.9" dy="1.45">generalist</tspan><tspan x="200.9" dy="1.45">0.78</tspan><tspan x="200.9" dy="1.45">1%</tspan></text></g>
<g id="leaf26"><rect class="nb" x="203.75" y="461.5" width="6.9" height="12" rx="1.5" fill="#6aaed6"/><text class="lt" x="207.2" y="465.4">social<tspan x="207.2" dy="1.45">generalist</tspan><tspan x="207.2" dy="1.45">0.78</tspan><tspan x="207.2" dy="1.45">1%</tspan></text></g>
<g id="leaf27"><rect class="nb" x="210.15" y="461.5" width="6.9" height="12" rx="1.5" fill="#86bcdc"/><text class="lt" x="213.6" y="465.4">social<tspan x="213.6" dy="1.45">generalist</tspan><tspan x="213.6" dy="1.45">0.68</tspan><tspan x="213.6" dy="1.45">1%</tspan></text></g>
<g id="leaf28"><rect class="nb" x="216.45" y="461.5" width="6.9" height="12" rx="1.5" fill="#c6dbef"/><text class="lt" x="219.9" y="465.4">social<tspan x="219.9" dy="1.45">generalist</tspan><tspan x="219.9" dy="1.45">0.54</tspan><tspan x="219.9" dy="1.45">2%</tspan></text></g>
<g id="leaf29"><rect class="nb" x="222.75" y="461.5" width="6.9" height="12" rx="1.5" fill="#6aaed6"/><text class="lt" x="226.2" y="465.4">social<tspan x="226.2" dy="1.45">generalist</tspan><tspan x="226.2" dy="1.45">0.78</tspan><tspan x="226.2" dy="1.45">1%</tspan></text></g>
<g id="leaf30"><rect class="nb" x="229.15" y="461.5" width="6.9" height="12" rx="1.5" fill="#86bcdc"/><text class="lt" x="232.6" y="465.4">social<tspan x="232.6" dy="1.45">generalist</tspan><tspan x="232.6" dy="1.45">0.68</tspan><tspan x="232.6" dy="1.45">1%</tspan></text></g>
<g id="leaf31"><rect class="nb" x="235.45" y="461.5" width="6.9" height="12" rx="1.5" fill="#c6dbef"/><text class="lt" x="238.9" y="465.4">social<tspan x="238.9" dy="1.45">generalist</tspan><tspan x="238.9" dy="1.45">0.54</tspan><tspan x="238.9" dy="1.45">1%</tspan></text></g>
<g id="leaf32"><rect class="nb" x="241.85" y="461.5" width="6.9" height="12" rx="1.5" fill="#e3eef8"/><text class="lt" x="245.3" y="465.4">social<tspan x="245.3" dy="1.45">generalist</tspan><tspan x="245.3" dy="1.45">0.50</tspan><tspan x="245.3" dy="1.45">1%</tspan></text></g>
<g id="leaf33"><rect class="nb" x="248.15" y="461.5" width="6.9" height="12" rx="1.5" fill="#c6dbef"/><text class="lt" x="251.6" y="465.4">social<tspan x="251.6" dy="1.45">generalist</tspan><tspan x="251.6" dy="1.45">0.54</tspan><tspan x="251.6" dy="1.45">1%</tspan></text></g>
<g id="leaf34"><rect class="nb" x="254.55" y="461.5" width="6.9" height="12" rx="1.5" fill="#9ac8e0"/><text class="lt" x="258" y="465.4">social<tspan x="258" dy="1.45">generalist</tspan><tspan x="258" dy="1.45">0.65</tspan><tspan x="258" dy="1.45">1%</tspan></text></g>
<g id="leaf35"><rect class="nb" x="260.85" y="461.5" width="6.9" height="12" rx="1.5" fill="#dcefd3"/><text class="lt" x="264.3" y="466.1">expert<tspan x="264.3" dy="1.45">0.52</tspan><tspan x="264.3" dy="1.45">1%</tspan></text></g>
<g id="leaf36"><rect class="nb" x="267.15" y="461.5" width="6.9" height="12" rx="1.5" fill="#e1e4f3"/><text class="lt" x="270.6" y="465.4">social<tspan x="270.6" dy="1.45">generalist</tspan><tspan x="270.6" dy="1.45">0.50</tspan><tspan x="270.6" dy="1.45">2%</tspan></text></g>
<g id="leaf37"><rect class="nb" x="273.55" y="461.5" width="6.9" height="12" rx="1.5" fill="#c6dbef"/><text class="lt" x="277" y="465.4">social<tspan x="277" dy="1.45">generalist</tspan><tspan x="277" dy="1.45">0.54</tspan><tspan x="277" dy="1.45">1%</tspan></text></g>
<g id="leaf38"><rect class="nb" x="279.85" y="461.5" width="6.9" height="12" rx="1.5" fill="#6aaed6"/><text class="lt" x="283.3" y="465.4">social<tspan x="283.3" dy="1.45">generalist</tspan><tspan x="283.3" dy="1.45">0.78</tspan><tspan x="283.3" dy="1.45">1%</tspan></text></g>
<g id="leaf39"><rect class="nb" x="286.25" y="461.5" width="6.9" height="12" rx="1.5" fill="#6aaed6"/><text class="lt" x="289.7" y="465.4">social<tspan x="289.7" dy="1.45">generalist</tspan><tspan x="289.7" dy="1.45">0.78</tspan><tspan x="289.7" dy="1.45">1%</tspan></text></g>
<g id="leaf40"><rect class="nb" x="292.55" y="461.5" width="6.9" height="12" rx="1.5" fill="#dcefd3"/><text class="lt" x="296" y="466.1">expert<tspan x="296" dy="1.45">0.52</tspan><tspan x="296" dy="1.45">1%</tspan></text></g>
<g id="leaf41"><rect class="nb" x="298.95" y="461.5" width="6.9" height="12" rx="1.5" fill="#c7e9c0"/><text class="lt" x="302.4" y="466.1">expert<tspan x="302.4" dy="1.45">0.58</tspan><tspan x="302.4" dy="1.45">1%</tspan></text></g>
<g id="leaf42"><rect class="nb" x="305.25" y="461.5" width="6.9" height="12" rx="1.5" fill="#dcefd3"/><text class="lt" x="308.7" y="466.1">expert<tspan x="308.7" dy="1.45">0.52</tspan><tspan x="308.7" dy="1.45">1%</tspan></text></g>
<g id="leaf43"><rect class="nb" x="311.55" y="461.5" width="6.9" height="12" rx="1.5" fill="#c6dbef"/><text class="lt" x="315" y="465.4">social<tspan x="315" dy="1.45">generalist</tspan><tspan x="315" dy="1.45">0.54</tspan><tspan x="315" dy="1.45">2%</tspan></text></g>
<g id="leaf44"><rect class="nb" x="317.95" y="461.5" width="6.9" height="12" rx="1.5" fill="#9ac8e0"/><text class="lt" x="321.4" y="465.4">social<tspan x="321.4" dy="1.45">generalist</tspan><tspan x="321.4" dy="1.45">0.65</tspan><tspan x="321.4" dy="1.45">1%</tspan></text></g>
<g id="leaf45"><rect class="nb" x="324.25" y="461.5" width="6.9" height="12" rx="1.5" fill="#dcefd3"/><text class="lt" x="327.7" y="466.1">expert<tspan x="327.7" dy="1.45">0.52</tspan><tspan x="327.7" dy="1.45">1%</tspan></text></g>
<g id="leaf46"><rect class="nb" x="330.65" y="461.5" width="6.9" height="12" rx="1.5" fill="#dcefd3"/><text class="lt" x="334.1" y="466.1">expert<tspan x="334.1" dy="1.45">0.52</tspan><tspan x="334.1" dy="1.45">1%</tspan></text></g>
<g id="leaf47"><rect class="nb" x="336.95" y="461.5" width="6.9" height="12" rx="1.5" fill="#dcefd3"/><text class="lt" x="340.4" y="466.1">expert<tspan x="340.4" dy="1.45">0.52</tspan><tspan x="340.4" dy="1.45">1%</tspan></text></g>
<g id="leaf48"><rect class="nb" x="343.35" y="461.5" width="6.9" height="12" rx="1.5" fill="#4f97cc"/><text class="lt" x="346.8" y="465.4">social<tspan x="346.8" dy="1.45">generalist</tspan><tspan x="346.8" dy="1.45">0.88</tspan><tspan x="346.8" dy="1.45">2%</tspan></text></g>
<g id="leaf49"><rect class="nb" x="349.65" y="461.5" width="6.9" height="12" rx="1.5" fill="#9ac8e0"/><text class="lt" x="353.1" y="465.4">social<tspan x="353.1" dy="1.45">generalist</tspan><tspan x="353.1" dy="1.45">0.65</tspan><tspan x="353.1" dy="1.45">2%</tspan></text></g>
<g id="leaf50"><rect class="nb" x="356.05" y="461.5" width="6.9" height="12" rx="1.5" fill="#c6dbef"/><text class="lt" x="359.5" y="465.4">social<tspan x="359.5" dy="1.45">generalist</tspan><tspan x="359.5" dy="1.45">0.54</tspan><tspan x="359.5" dy="1.45">1%</tspan></text></g>
<g id="leaf51"><rect class="nb" x="362.35" y="461.5" width="6.9" height="12" rx="1.5" fill="#d2e3f3"/><text class="lt" x="365.8" y="465.4">social<tspan x="365.8" dy="1.45">generalist</tspan><tspan x="365.8" dy="1.45">0.50</tspan><tspan x="365.8" dy="1.45">1%</tspan></text></g>
<g id="leaf52"><rect class="nb" x="368.65" y="461.5" width="6.9" height="12" rx="1.5" fill="#d2e3f3"/><text class="lt" x="372.1" y="465.4">social<tspan x="372.1" dy="1.45">generalist</tspan><tspan x="372.1" dy="1.45">0.50</tspan><tspan x="372.1" dy="1.45">1%</tspan></text></g>
<g id="leaf53"><rect class="nb" x="375.05" y="461.5" width="6.9" height="12" rx="1.5" fill="#dcefd3"/><text class="lt" x="378.5" y="466.1">expert<tspan x="378.5" dy="1.45">0.52</tspan><tspan x="378.5" dy="1.45">1%</tspan></text></g>
<g id="leaf54"><rect class="nb" x="381.35" y="461.5" width="6.9" height="12" rx="1.5" fill="#dcefd3"/><text class="lt" x="384.8" y="466.1">expert<tspan x="384.8" dy="1.45">0.52</tspan><tspan x="384.8" dy="1.45">1%</tspan></text></g>
<g id="leaf55"><rect class="nb" x="387.75" y="461.5" width="6.9" height="12" rx="1.5" fill="#c6dbef"/><text class="lt" x="391.2" y="465.4">social<tspan x="391.2" dy="1.45">generalist</tspan><tspan x="391.2" dy="1.45">0.54</tspan><tspan x="391.2" dy="1.45">2%</tspan></text></g>
<g id="leaf56"><rect class="nb" x="394.05" y="461.5" width="6.9" height="12" rx="1.5" fill="#d2e3f3"/><text class="lt" x="397.5" y="465.4">social<tspan x="397.5" dy="1.45">generalist</tspan><tspan x="397.5" dy="1.45">0.50</tspan><tspan x="397.5" dy="1.45">1%</tspan></text></g>
<g id="leaf57"><rect class="nb" x="400.35" y="461.5" width="6.9" height="12" rx="1.5" fill="#dcefd3"/><text class="lt" x="403.8" y="466.1">expert<tspan x="403.8" dy="1.45">0.52</tspan><tspan x="403.8" dy="1.45">1%</tspan></text></g>
<g id="leaf58"><rect class="nb" x="406.75" y="461.5" width="6.9" height="12" rx="1.5" fill="#e1e4f3"/><text class="lt" x="410.2" y="465.4">social<tspan x="410.2" dy="1.45">generalist</tspan><tspan x="410.2" dy="1.45">0.50</tspan><tspan x="410.2" dy="1.45">1%</tspan></text></g>
<g id="leaf59"><rect class="nb" x="413.05" y="461.5" width="6.9" height="12" rx="1.5" fill="#d2e3f3"/><text class="lt" x="416.5" y="465.4">social<tspan x="416.5" dy="1.45">generalist</tspan><tspan x="416.5" dy="1.45">0.50</tspan><tspan x="416.5" dy="1.45">1%</tspan></text></g>
<g id="leaf60"><rect class="nb" x="419.45" y="461.5" width="6.9" height="12" rx="1.5" fill="#74c476"/><text class="lt" x="422.9" y="466.1">expert<tspan x="422.9" dy="1.45">0.79</tspan><tspan x="422.9" dy="1.45">1%</tspan></text></g>
<g id="leaf61"><rect class="nb" x="425.75" y="461.5" width="6.9" height="12" rx="1.5" fill="#74c476"/><text class="lt" x="429.2" y="466.1">expert<tspan x="429.2" dy="1.45">0.79</tspan><tspan x="429.2" dy="1.45">1%</tspan></text></g>
<g id="leaf62"><rect class="nb" x="432.15" y="461.5" width="6.9" height="12" rx="1.5" fill="#74c476"/><text class="lt" x="435.6" y="466.1">expert<tspan x="435.6" dy="1.45">0.79</tspan><tspan x="435.6" dy="1.45">1%</tspan></text></g>
<g id="leaf63"><rect class="nb" x="438.45" y="461.5" width="6.9" height="12" rx="1.5" fill="#6abf69"/><text class="lt" x="441.9" y="466.1">expert<tspan x="441.9" dy="1.45">0.82</tspan><tspan x="441.9" dy="1.45">1%</tspan></text></g>
<g id="leaf64"><rect class="nb" x="444.85" y="461.5" width="6.9" height="12" rx="1.5" fill="#74c476"/><text class="lt" x="448.3" y="466.1">expert<tspan x="448.3" dy="1.45">0.79</tspan><tspan x="448.3" dy="1.45">2%</tspan></text></g>
<g id="leaf65"><rect class="nb" x="451.15" y="461.5" width="6.9" height="12" rx="1.5" fill="#6abf69"/><text class="lt" x="454.6" y="466.1">expert<tspan x="454.6" dy="1.45">0.82</tspan><tspan x="454.6" dy="1.45">3%</tspan></text></g>
<g id="leaf66"><rect class="nb" x="457.45" y="461.5" width="6.9" height="12" rx="1.5" fill="#74c476"/><text class="lt" x="460.9" y="466.1">expert<tspan x="460.9" dy="1.45">0.79</tspan><tspan x="460.9" dy="1.45">3%</tspan></text></g>
<g id="leaf67"><rect class="nb" x="463.85" y="461.5" width="8.15" height="12" rx="2" fill="#6abf69"/><text class="lt" x="467.3" y="466.1">expert<tspan x="467.3" dy="1.45">0.82</tspan><tspan x="467.3" dy="1.45">2%</tspan></text></g>
</svg>
